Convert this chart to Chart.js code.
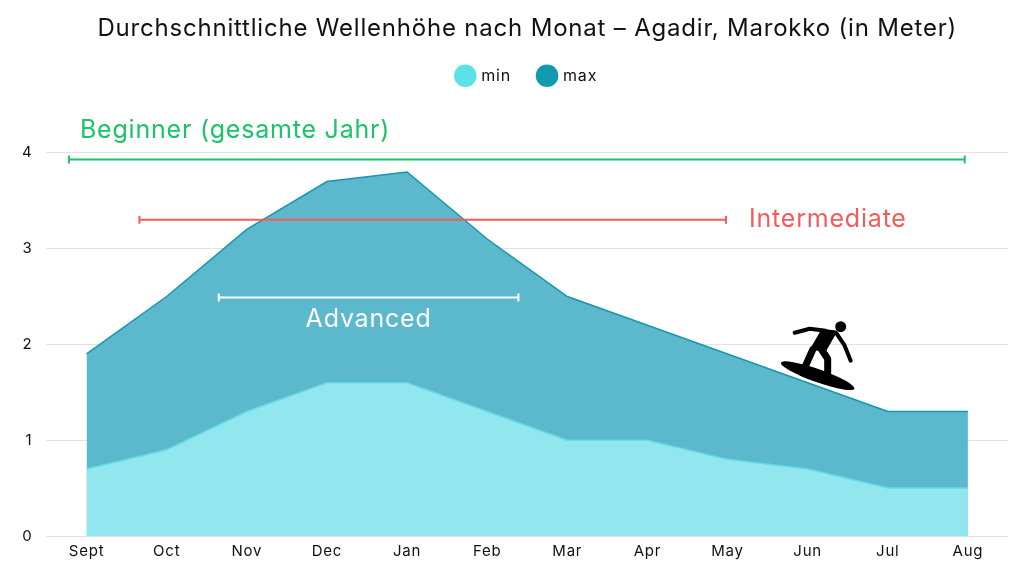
<!DOCTYPE html>
<html>
<head>
<meta charset="utf-8">
<script src="https://cdn.jsdelivr.net/npm/chart.js@4.4.0/dist/chart.umd.min.js"></script>
<style>
  html, body { margin: 0; padding: 0; background: #fff; }
  #wrap { width: 1024px; height: 576px; }
</style>
</head>
<body>
<div id="wrap"><canvas id="waveChart"></canvas></div>
<script>
// Monthly wave heights (m)
const months = ['Sept', 'Oct', 'Nov', 'Dec', 'Jan', 'Feb', 'Mar', 'Apr', 'May', 'Jun', 'Jul', 'Aug'];
const minHeight = [0.7, 0.9, 1.3, 1.6, 1.6, 1.3, 1.0, 1.0, 0.8, 0.7, 0.5, 0.5];
const maxHeight = [1.9, 2.5, 3.2, 3.7, 3.8, 3.1, 2.5, 2.2, 1.9, 1.6, 1.3, 1.3];
const yTicks = [0, 1, 2, 3, 4];

// Skill ranges: label, height, start index, end index, colour
const levelNames = ['Beginner (gesamte Jahr)', 'Intermediate', 'Advanced'];
const levelHeights = [3.93, 3.3, 2.49];
const levelFrom = [-0.22, 0.66, 1.65];
const levelTo = [10.96, 7.98, 5.39];
const levelColors = ['#1dc36a', '#f25c5c', '#ffffff'];

const FONT = 'Inter, "Noto Sans", sans-serif';

// wider letter spacing so Inter runs closer to the original's geometric font
const spacing = {
    id: 'spacing',
    beforeUpdate(chart) { chart.ctx.letterSpacing = '0.8px'; },
    beforeLayout(chart) { chart.ctx.letterSpacing = '0.8px'; },
    beforeDraw(chart) { chart.ctx.letterSpacing = '0.8px'; }
};

// Give the legend some room below so the labels fit above the plot
const legendGap = {
    id: 'legendGap',
    beforeInit(chart) {
        const fit = chart.legend.fit;
        chart.legend.fit = function () {
            fit.bind(chart.legend)();
            this.height += 59;
        };
    }
};

// Draw skill range bars and the surfer
const levels = {
    id: 'levels',
    afterDatasetsDraw(chart) {
        const c = chart.ctx;
        const x = chart.scales.x, y = chart.scales.y;
        const step = x.getPixelForValue(1) - x.getPixelForValue(0);
        const px = i => x.getPixelForValue(0) + i * step;
        c.save();
        levelNames.forEach((name, i) => {
            const yy = y.getPixelForValue(levelHeights[i]);
            const x0 = px(levelFrom[i]), x1 = px(levelTo[i]);
            c.strokeStyle = levelColors[i];
            c.lineWidth = 2;
            c.beginPath();
            c.moveTo(x0, yy); c.lineTo(x1, yy);
            c.moveTo(x0, yy - 4); c.lineTo(x0, yy + 4);
            c.moveTo(x1, yy - 4); c.lineTo(x1, yy + 4);
            c.stroke();
            c.fillStyle = levelColors[i];
            c.font = '25px ' + FONT;
            c.textBaseline = 'middle';
            if (i === 0) {
                c.textAlign = 'left';
                c.fillText(name, x0 + 11, yy - 29);
            } else if (i === 1) {
                c.textAlign = 'left';
                c.fillText(name, x1 + 23, yy);
            } else {
                c.textAlign = 'center';
                c.fillText(name, (x0 + x1) / 2, yy + 22);
            }
        });

        // surfer silhouette riding the max line near Jun
        const sx = px(9) + 10, sy = y.getPixelForValue(1.6) - 7;
        c.fillStyle = '#000';
        c.strokeStyle = '#000';
        c.lineCap = 'round';
        c.lineJoin = 'round';
        // board
        c.beginPath();
        c.ellipse(sx, sy, 39, 6.5, 0.34, 0, Math.PI * 2);
        c.fill();
        // head
        c.beginPath();
        c.arc(sx + 23, sy - 49, 5.5, 0, Math.PI * 2);
        c.fill();
        // torso
        c.beginPath();
        c.moveTo(sx + 4, sy - 47);
        c.lineTo(sx + 20, sy - 45);
        c.lineTo(sx + 8, sy - 24);
        c.lineTo(sx - 8, sy - 26);
        c.closePath();
        c.fill();
        // arms
        c.lineWidth = 4;
        c.beginPath();
        c.moveTo(sx + 8, sy - 45); c.lineTo(sx - 8, sy - 47); c.lineTo(sx - 23, sy - 43);
        c.moveTo(sx + 19, sy - 42); c.lineTo(sx + 27, sy - 30); c.lineTo(sx + 33, sy - 15);
        c.stroke();
        // legs
        c.lineWidth = 7;
        c.beginPath();
        c.moveTo(sx - 5, sy - 26); c.lineTo(sx - 9, sy - 17); c.lineTo(sx - 13, sy - 8);
        c.moveTo(sx + 4, sy - 26); c.lineTo(sx + 10, sy - 17); c.lineTo(sx + 10, sy - 3);
        c.stroke();
        c.restore();
    }
};

const ctx = document.getElementById('waveChart').getContext('2d');
const waveChart = new Chart(ctx, {
    type: 'line',
    data: {
        labels: months,
        datasets: [
            {
                label: 'min',
                data: minHeight,
                fill: 'origin',
                backgroundColor: 'rgba(150, 234, 240, 0.95)',
                borderColor: '#64dbe6',
                borderWidth: 1.5,
                pointRadius: 0,
                tension: 0
            },
            {
                label: 'max',
                data: maxHeight,
                fill: 'origin',
                backgroundColor: 'rgba(73, 176, 200, 0.9)',
                borderColor: '#1696ad',
                borderWidth: 1.5,
                pointRadius: 0,
                tension: 0
            }
        ]
    },
    options: {
        responsive: true,
        maintainAspectRatio: false,
        animation: false,
        layout: { padding: { left: 8, right: 16, bottom: 10, top: 0 } },
        scales: {
            x: {
                offset: true,
                grid: { display: false, drawTicks: false },
                border: { display: false },
                ticks: { color: '#111', font: { family: FONT, size: 15 }, padding: 6 }
            },
            y: {
                min: 0,
                max: 4,
                afterBuildTicks: axis => { axis.ticks = yTicks.map(v => ({ value: v })); },
                grid: { color: '#e2e2e2', drawTicks: false },
                border: { display: false },
                ticks: { color: '#111', font: { family: FONT, size: 15 }, padding: 14 }
            }
        },
        plugins: {
            title: {
                display: true,
                fullSize: false,
                text: 'Durchschnittliche Wellenhöhe nach Monat – Agadir, Marokko (in Meter)',
                color: '#111',
                font: { family: FONT, size: 24, weight: 'normal' },
                padding: { top: 14, bottom: -3 }
            },
            legend: {
                position: 'top',
                fullSize: false,
                labels: {
                    usePointStyle: true,
                    pointStyle: 'circle',
                    boxWidth: 16,
                    boxHeight: 16,
                    padding: 28,
                    color: '#111',
                    font: { family: FONT, size: 16 },
                    generateLabels: chart => {
                        const solid = ['#5ce1e6', '#0f9ab0'];
                        return Chart.defaults.plugins.legend.labels.generateLabels(chart).map((l, i) => {
                            l.fillStyle = solid[i];
                            l.strokeStyle = solid[i];
                            l.lineWidth = 0;
                            return l;
                        });
                    }
                }
            },
            tooltip: { enabled: false }
        }
    },
    plugins: [spacing, legendGap, levels]
});
</script>
</body>
</html>
